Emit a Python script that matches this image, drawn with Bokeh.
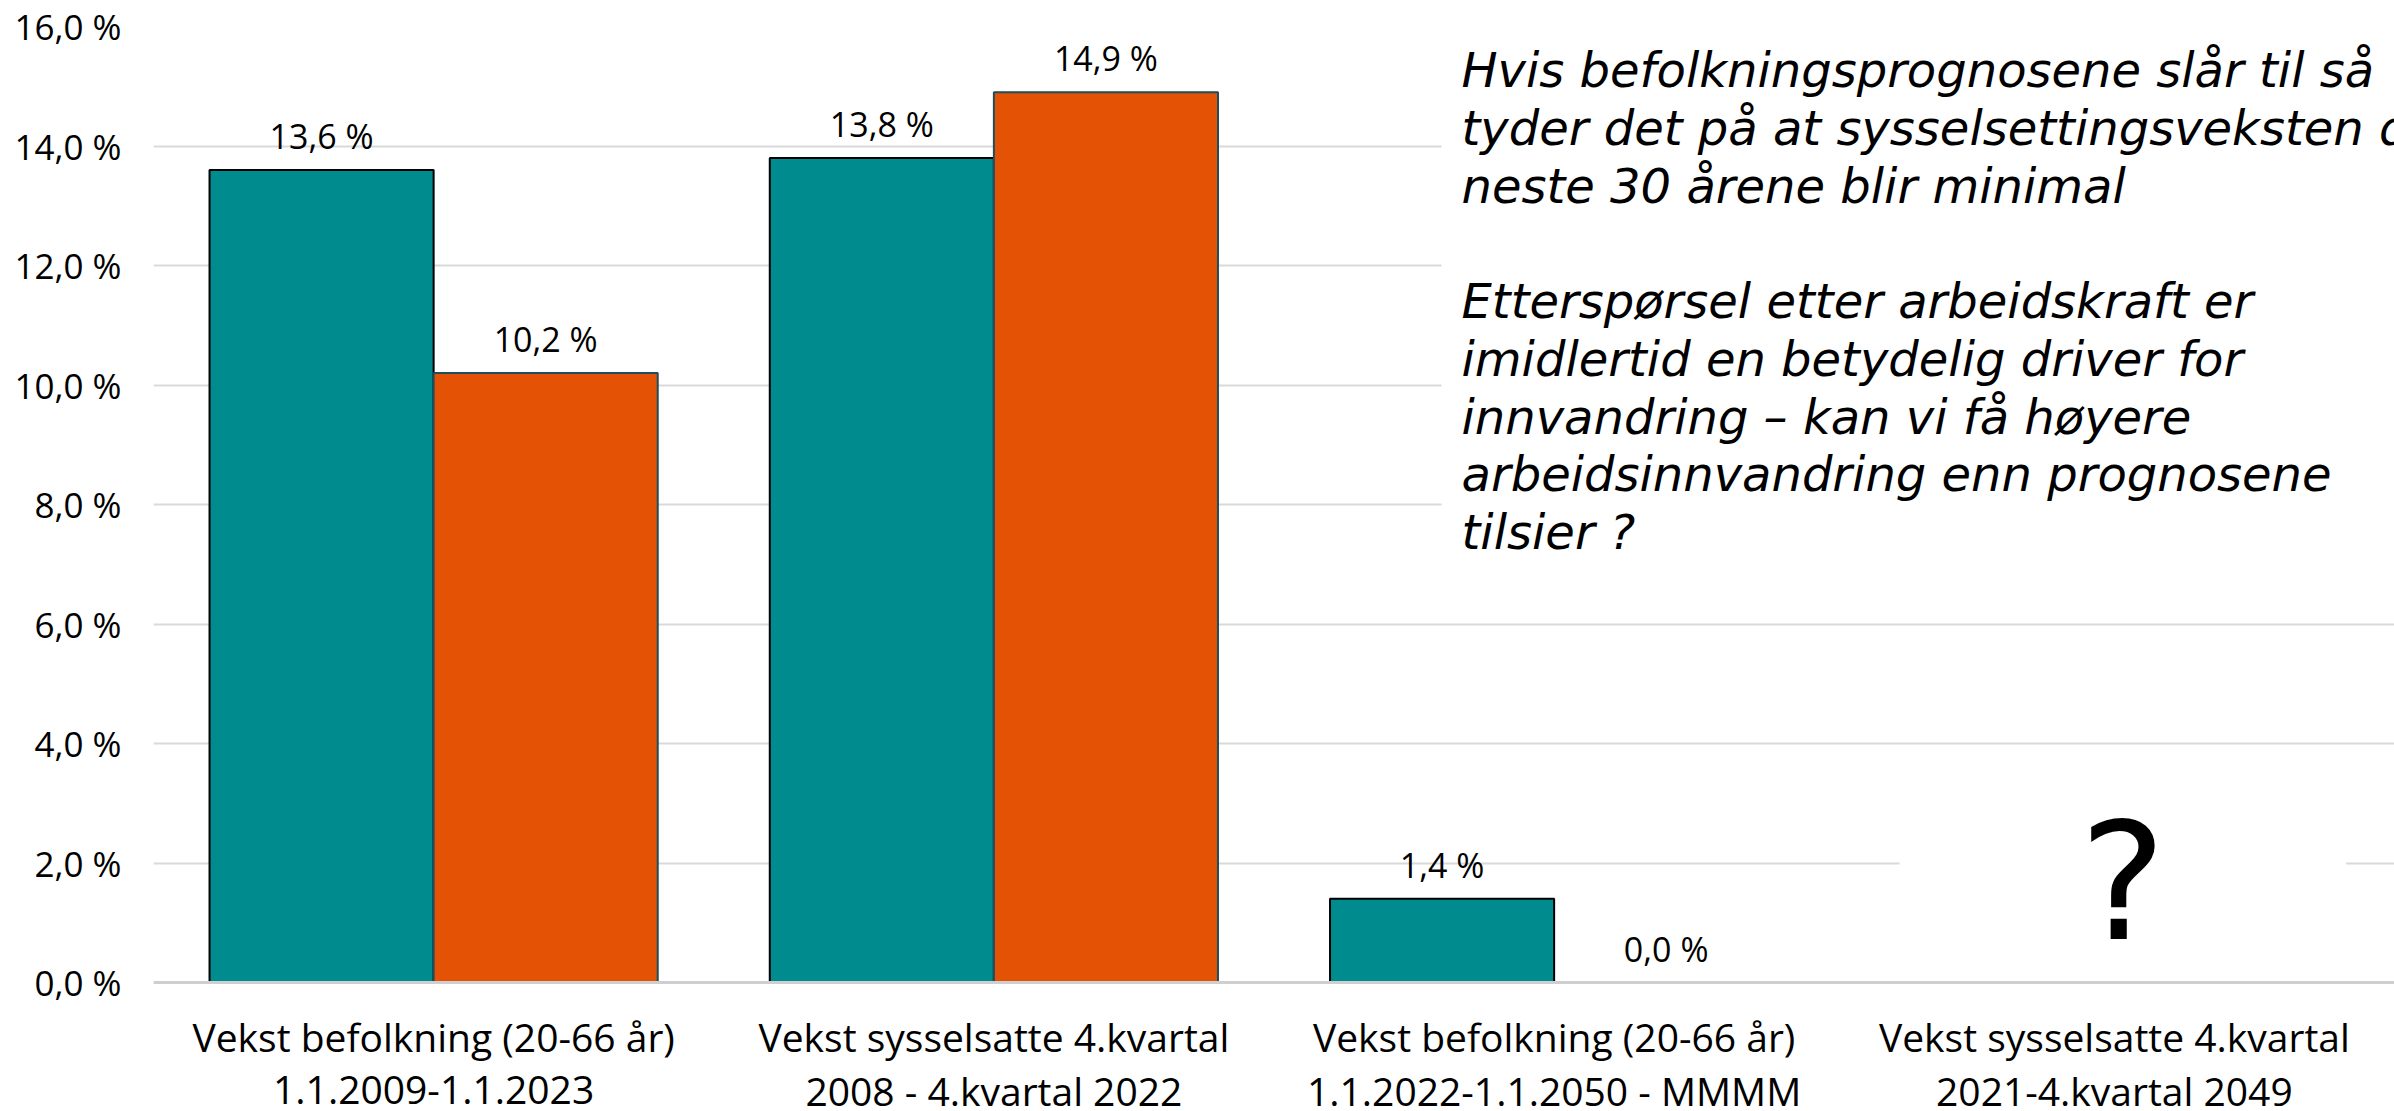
from bokeh.plotting import figure
from bokeh.models import ColumnDataSource, FactorRange, Range1d, FixedTicker, Label, Span
from bokeh.transform import dodge
from bokeh.core.properties import value
from bokeh.embed import file_html
from bokeh.resources import INLINE

# ---- data ----
cat_line1 = [
    "Vekst befolkning (20-66 år)",
    "Vekst sysselsatte 4.kvartal",
    "Vekst befolkning (20-66 år)",
    "Vekst sysselsatte 4.kvartal",
]
cat_line2 = [
    "1.1.2009-1.1.2023",
    "2008 - 4.kvartal 2022",
    "1.1.2022-1.1.2050 - MMMM",
    "2021-4.kvartal 2049",
]
categories = [a + "\n" + b for a, b in zip(cat_line1, cat_line2)]
series_a = [13.6, 13.8, 1.4, float("nan")]   # teal
series_b = [10.2, 14.9, 0.0, float("nan")]   # orange
y_ticks = [0, 2, 4, 6, 8, 10, 12, 14, 16]
y_tick_labels = ["0,0 %", "2,0 %", "4,0 %", "6,0 %", "8,0 %", "10,0 %", "12,0 %", "14,0 %", "16,0 %"]
note_text = ("Hvis befolkningsprognosene slår til så\n"
             "tyder det på at sysselsettingsveksten de\n"
             "neste 30 årene blir minimal\n"
             "\n"
             "Etterspørsel etter arbeidskraft er\n"
             "imidlertid en betydelig driver for\n"
             "innvandring – kan vi få høyere\n"
             "arbeidsinnvandring enn prognosene\n"
             "tilsier ?")
question_text = "?"


def fmt(v):
    if v != v:
        return ""
    return f"{v:.1f} %".replace(".", ",")


TEAL = "#008B8E"
ORANGE = "#E35205"

src = ColumnDataSource(dict(
    cat=categories,
    l1=cat_line1,
    l2=cat_line2,
    a=series_a,
    b=series_b,
    a_lbl=[fmt(v) for v in series_a],
    b_lbl=[fmt(v) for v in series_b],
))

# frame spans down to the canvas bottom; the category names sit in the lower strip
CANVAS_W = 2394
CANVAS_H = 1111
TOP = 26
PX_PER_UNIT = 59.75
y_min = 16 - (CANVAS_H - TOP) / PX_PER_UNIT

p = figure(
    width=CANVAS_W, height=CANVAS_H,
    x_range=FactorRange(*categories, range_padding=0),
    y_range=Range1d(y_min, 16),
    output_backend="svg", toolbar_location=None,
    min_border_left=153, min_border_right=0,
    min_border_top=TOP, min_border_bottom=0,
)
p.outline_line_color = None
p.background_fill_color = "white"
p.border_fill_color = "white"
p.xaxis.visible = False

p.vbar(x=dodge("cat", -0.2, range=p.x_range), top="a", width=0.4, source=src,
       fill_color=TEAL, line_color="black", line_width=2)
p.vbar(x=dodge("cat", 0.2, range=p.x_range), top="b", width=0.4, source=src,
       fill_color=ORANGE, line_color="#1E4D5C", line_width=2)

lbl_style = dict(text_font=value("Open Sans"), text_font_size="34px", text_color="black",
                 text_align="center", text_baseline="alphabetic", y_offset=-34)
p.text(x=dodge("cat", -0.2, range=p.x_range), y="a", text="a_lbl", source=src, **lbl_style)
p.text(x=dodge("cat", 0.2, range=p.x_range), y="b", text="b_lbl", source=src, **lbl_style)

# category names (two lines each) below the zero line
cat_style = dict(text_font=value("Open Sans"), text_font_size="39px", text_color="black",
                 text_align="center", text_baseline="middle")
p.text(x="cat", y=-0.91, text="l1", source=src, **cat_style)
p.text(x="cat", y=-1.80, text="l2", source=src, **cat_style)

# grid
p.xgrid.grid_line_color = None
p.ygrid.ticker = FixedTicker(ticks=y_ticks)
p.ygrid.grid_line_color = "#D9D9D9"
p.ygrid.grid_line_width = 2

# y axis
p.yaxis.ticker = FixedTicker(ticks=y_ticks)
p.yaxis.major_label_overrides = {t: l for t, l in zip(y_ticks, y_tick_labels)}
p.yaxis.axis_line_color = None
p.yaxis.major_tick_line_color = None
p.yaxis.minor_tick_line_color = None
p.yaxis.major_tick_out = 0
p.yaxis.major_tick_in = 0
p.yaxis.major_label_standoff = 32
p.yaxis.major_label_text_font = "Open Sans"
p.yaxis.major_label_text_font_size = "35px"
p.yaxis.major_label_text_color = "black"

note = Label(x=2.299, y=15.90, text=note_text, text_align="left", text_baseline="top",
             text_font="DejaVu Sans", text_font_style="italic", text_font_size="48px",
             text_color="black", text_line_height=1.03,
             background_fill_color="white",
             padding=dict(left=20, right=500, top=10, bottom=25))
p.add_layout(note)

q = Label(x=3.515, y=1.67, text=question_text, text_align="center", text_baseline="middle",
          text_font="DejaVu Sans", text_font_size="163px", text_color="black",
          background_fill_color="white",
          padding=dict(left=180, right=180, top=0, bottom=0))
p.add_layout(q)

# zero line
p.add_layout(Span(location=0, dimension="width", line_color="#CFCFCF", line_width=3))

open("out.html", "w").write(file_html(p, INLINE))
